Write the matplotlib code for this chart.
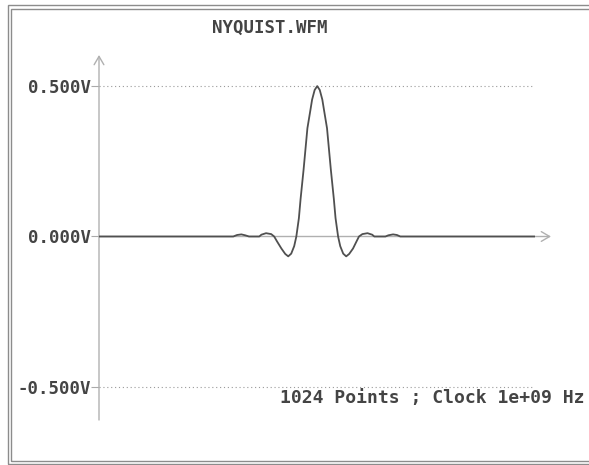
import matplotlib
matplotlib.use("Agg")
import matplotlib.pyplot as plt
from matplotlib.patches import Rectangle

# waveform samples (sample index, volts)
sample_idx = [0, 297, 315, 324, 334, 343, 352, 376, 381, 392, 404, 411, 418,
              428, 437, 444, 451, 458, 463, 469, 473, 480, 489, 496, 500, 506,
              512,
              518, 524, 528, 535, 544, 551, 555, 561, 566, 573, 580, 587, 596,
              604, 610, 618, 630, 641, 646, 672, 679, 690, 699, 707, 1023]
volts = [0.0, 0.0, 0.0, 0.005, 0.007, 0.004, 0.0, 0.0, 0.006, 0.011, 0.008,
         0.0, -0.017, -0.040, -0.058, -0.066, -0.057, -0.032, 0.0, 0.061,
         0.125, 0.222, 0.36, 0.42, 0.455, 0.487,
         0.500,
         0.487, 0.455, 0.42, 0.36, 0.222, 0.125, 0.061, 0.0, -0.032, -0.057,
         -0.066, -0.058, -0.040, -0.017, 0.0, 0.008, 0.011, 0.006, 0.0, 0.0,
         0.004, 0.007, 0.005, 0.0, 0.0]

y_ticks = [-0.5, 0.0, 0.5]
y_labels = ["-0.500V", "0.000V", "0.500V"]
title = "NYQUIST.WFM"
info = "1024 Points ; Clock 1e+09 Hz"
n_points = 1024

W, H = 589, 465
fig = plt.figure(figsize=(W / 100, H / 100), dpi=100)
fig.patch.set_facecolor("white")

# double frame around the window (runs off the right edge)
for (x0, y0, x1, y1), c in [((8, 5, 640, 464), "#8c8c8c"),
                            ((11, 9, 640, 461), "#8c8c8c")]:
    fig.patches.append(Rectangle((x0 / W, 1 - y1 / H), (x1 - x0) / W,
                                 (y1 - y0) / H, transform=fig.transFigure,
                                 fill=False, ec=c, lw=1.0))

# plot area: x 99..535 px, y 55..420 px
top_v = 0.5 + (86 - 55) / 300
bot_v = -0.5 - (420 - 387) / 300
ax = fig.add_axes([99 / W, 1 - 420 / H, 436 / W, 365 / H])
ax.set_xlim(0, n_points - 1)
ax.set_ylim(bot_v, top_v)
for s in ax.spines.values():
    s.set_visible(False)
ax.set_xticks([])
ax.set_yticks(y_ticks)
ax.set_yticklabels(y_labels, family="DejaVu Sans Mono", fontsize=12.5,
                   fontweight="bold", color="#444444")
ax.tick_params(axis="y", length=6, width=0.8, color="#aaaaaa", pad=0)

for v in (0.5, -0.5):
    ax.axhline(v, color="#9a9a9a", lw=0.8, ls=(0, (1, 2.5)))

# axes with open arrows
ax.annotate("", xy=(1 + 16 / 436, 0), xycoords=("axes fraction", "data"),
            xytext=(0, 0), textcoords=("axes fraction", "data"),
            arrowprops=dict(arrowstyle="->,head_length=0.6,head_width=0.35",
                            color="#b0b0b0", lw=1.0, shrinkA=0, shrinkB=0))
ax.annotate("", xy=(0, 1), xycoords="axes fraction",
            xytext=(0, 0), textcoords="axes fraction",
            arrowprops=dict(arrowstyle="->,head_length=0.6,head_width=0.35",
                            color="#b0b0b0", lw=1.0, shrinkA=0, shrinkB=0))

ax.plot(sample_idx, volts, color="#505050", lw=1.3, zorder=3)

fig.text(270 / W, 1 - 28 / H, title, ha="center", va="center",
         family="DejaVu Sans Mono", fontsize=12.5, fontweight="bold",
         color="#444444")
fig.text(584 / W, 1 - 398 / H, info, ha="right", va="center",
         family="DejaVu Sans Mono", fontsize=13, fontweight="bold",
         color="#444444")

fig.savefig("out.png", dpi=100)
